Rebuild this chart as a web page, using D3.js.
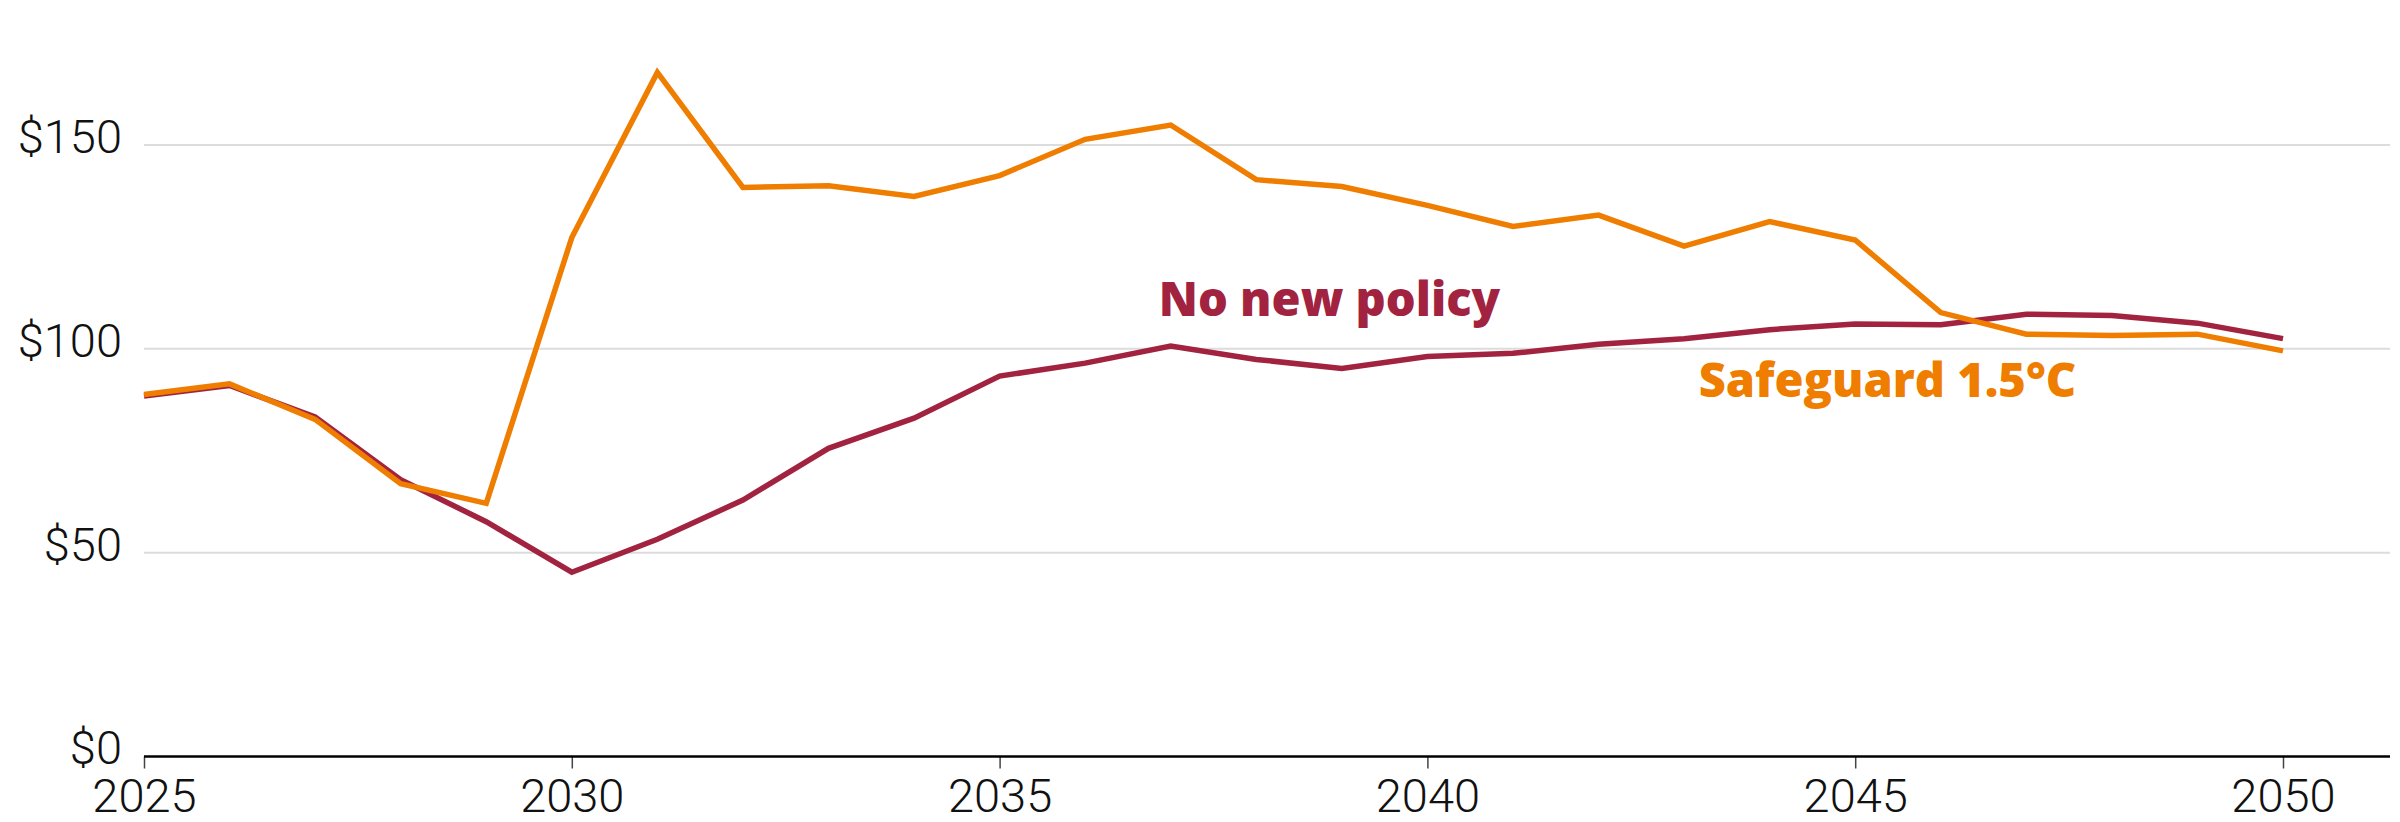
<!DOCTYPE html>
<html>
<head>
<meta charset="utf-8">
<script src="https://cdn.jsdelivr.net/npm/d3@7"></script>
<style>
  body { margin: 0; background: #fff; }
  .tick-label { font-family: Roboto, sans-serif; font-weight: 300; font-size: 47px; fill: #111; }
  .series-label { font-family: 'Open Sans', sans-serif; font-weight: 800; font-size: 47px; }
</style>
</head>
<body>
<div id="chart"></div>
<script>
const years = d3.range(2025, 2051)

const noNewPolicy = [
  88.4, 91.0, 83.3, 67.9, 57.6, 45.2, 53.3, 62.9, 75.6, 83.0,
  93.3, 96.5, 100.7, 97.4, 95.2, 98.1, 98.9, 101.1, 102.5, 104.7,
  106.1, 105.9, 108.5, 108.2, 106.3, 102.5
]

const safeguard = [
  88.8, 91.4, 82.7, 66.9, 62.1, 127.3, 167.8, 139.6, 140.0, 137.4,
  142.5, 151.4, 154.9, 141.5, 139.8, 135.2, 130.0, 132.8, 125.2, 131.2,
  126.7, 108.9, 103.6, 103.3, 103.6, 99.5
]

const yTicks = [0, 50, 100, 150]
const xTicks = [2025, 2030, 2035, 2040, 2045, 2050]

const seriesNames = ['No new policy', 'Safeguard 1.5°C']

const margin = { top: 145, left: 144, right: 117, bottom: 65 }
const width = 2400 - margin.left - margin.right
const height = 822 - margin.top - margin.bottom

const svg = d3
  .select('#chart')
  .append('svg')
  .attr('width', 2400)
  .attr('height', 822)
  .append('g')
  .attr('transform', 'translate(' + margin.left + ',' + margin.top + ')')

const x = d3.scaleLinear().domain([2025, 2050]).range([0, width])
const y = d3.scaleLinear().domain([0, 150]).range([height - 0.5, 0])

// gridlines
svg
  .selectAll('.grid')
  .data(yTicks.filter(d => d > 0))
  .enter()
  .append('line')
  .attr('class', 'grid')
  .attr('x1', 0)
  .attr('x2', width + 107)
  .attr('y1', d => y(d))
  .attr('y2', d => y(d))
  .attr('stroke', '#dcdcdc')
  .attr('stroke-width', 2)

// y labels
svg
  .selectAll('.y-label')
  .data(yTicks)
  .enter()
  .append('text')
  .attr('class', 'tick-label')
  .attr('x', -22)
  .attr('y', d => y(d))
  .attr('dy', '0.17em')
  .attr('text-anchor', 'end')
  .text(d => '$' + d)

// x axis
const xAxis = d3
  .axisBottom(x)
  .tickValues(xTicks)
  .tickFormat(d3.format('d'))
  .tickSize(12)
  .tickSizeOuter(0)

const xg = svg
  .append('g')
  .attr('transform', 'translate(0,' + y(0) + ')')
  .call(xAxis)

xg.select('.domain').remove()
xg.selectAll('.tick line').attr('stroke', '#444').attr('stroke-width', 1.5)
xg.selectAll('.tick text')
  .attr('class', 'tick-label')
  .attr('y', 22)
  .attr('dy', '0.71em')

xg.append('line')
  .attr('x1', 0)
  .attr('x2', width + 107)
  .attr('y1', 0)
  .attr('y2', 0)
  .attr('stroke', '#000')
  .attr('stroke-width', 2.5)

const line = d3
  .line()
  .x((d, i) => x(years[i]))
  .y(d => y(d))

svg
  .append('path')
  .datum(noNewPolicy)
  .attr('d', line)
  .attr('fill', 'none')
  .attr('stroke', '#a2233f')
  .attr('stroke-width', 5.5)

svg
  .append('path')
  .datum(safeguard)
  .attr('d', line)
  .attr('fill', 'none')
  .attr('stroke', '#ef7d00')
  .attr('stroke-width', 5.5)

// series labels
svg
  .append('text')
  .attr('class', 'series-label')
  .attr('x', x(2036.86))
  .attr('y', y(108.1))
  .attr('fill', '#a2233f')
  .text(seriesNames[0])

svg
  .append('text')
  .attr('class', 'series-label')
  .attr('x', x(2043.17))
  .attr('y', y(88.3))
  .attr('fill', '#ef7d00')
  .text(seriesNames[1])
</script>
</body>
</html>
